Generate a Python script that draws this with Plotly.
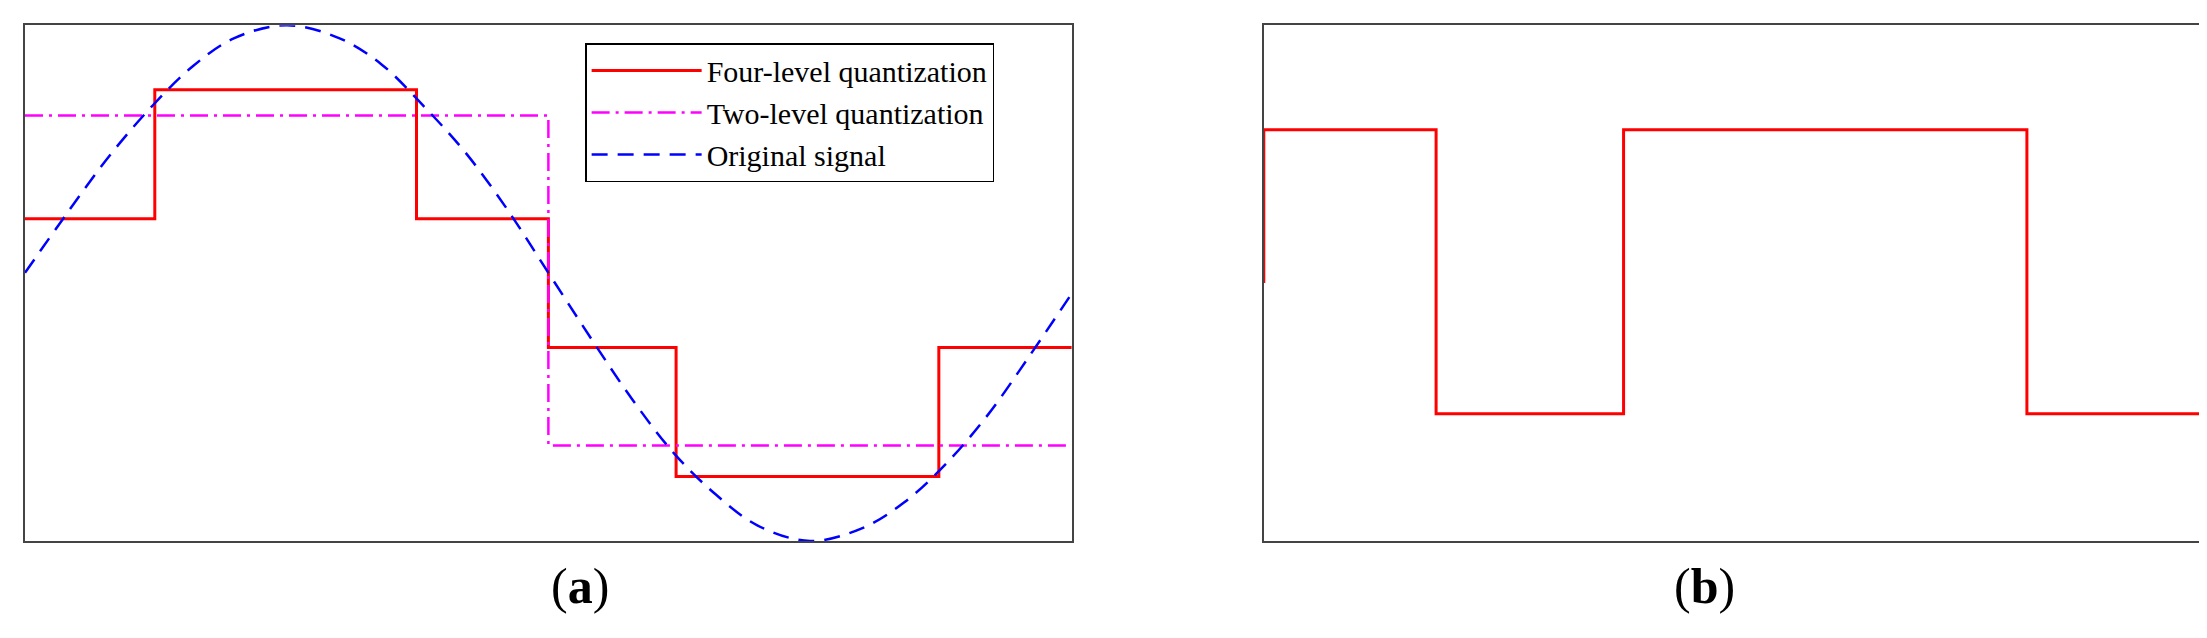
import plotly.graph_objects as go

# panel (a): one period of the original signal
sig_x = [0, 0.04, 0.08, 0.12, 0.16, 0.2, 0.25, 0.3, 0.34, 0.38, 0.42, 0.46, 0.5,
         0.54, 0.58, 0.62, 0.66, 0.7, 0.75, 0.8, 0.84, 0.88, 0.92, 0.96, 1.0]
sig_y = [0.04, 0.27, 0.49, 0.68, 0.84, 0.95, 1.0, 0.95, 0.85, 0.69, 0.51, 0.29, 0.04,
         -0.21, -0.45, -0.66, -0.82, -0.94, -1.0, -0.95, -0.85, -0.70, -0.51, -0.28, -0.04]

four_x = [0, 0.124, 0.124, 0.374, 0.374, 0.5, 0.5, 0.622, 0.622, 0.873, 0.873, 1.0]
four_y = [0.25, 0.25, 0.75, 0.75, 0.25, 0.25, -0.25, -0.25, -0.75, -0.75, -0.25, -0.25]

two_x = [0, 0.5, 0.5, 1.0]
two_y = [0.65, 0.65, -0.63, -0.63]

# panel (b): square wave
sq_x = [0, 0, 0.182, 0.182, 0.38, 0.38, 0.806, 0.806, 0.998, 0.998]
sq_y = [0, 0.595, 0.595, -0.507, -0.507, 0.595, 0.595, -0.507, -0.507, 0]

FONT = "Liberation Serif"

fig = go.Figure()
fig.add_trace(go.Scatter(x=four_x, y=four_y, mode="lines", name="Four-level quantization",
                         line=dict(color="red", width=3)))
fig.add_trace(go.Scatter(x=two_x, y=two_y, mode="lines", name="Two-level quantization",
                         line=dict(color="magenta", width=2.5, dash="18px,6px,3px,6px")))
fig.add_trace(go.Scatter(x=sig_x, y=sig_y, mode="lines", name="Original signal", line_shape="spline",
                         line=dict(color="blue", width=2.5, dash="16px,10px")))
fig.add_trace(go.Scatter(x=sq_x, y=sq_y, mode="lines", showlegend=False, cliponaxis=False,
                         line=dict(color="red", width=3), xaxis="x2", yaxis="y2"))

ax = dict(showticklabels=False, ticks="", showgrid=False, zeroline=False,
          showline=True, mirror=True, linecolor="#444", linewidth=1.5)
fig.update_layout(
    width=2207, height=638, margin=dict(l=0, r=0, t=0, b=0),
    plot_bgcolor="white", paper_bgcolor="white",
    xaxis=dict(ax, domain=[0.0077, 0.482], range=[0, 1]),
    yaxis=dict(ax, domain=[0.1646, 0.973], range=[-1, 1]),
    xaxis2=dict(ax, domain=[0.569, 0.998], range=[0, 1], anchor="y2"),
    yaxis2=dict(ax, domain=[0.1646, 0.973], range=[-1, 1], anchor="x2"),
    legend=dict(x=0.2615, y=0.945, xanchor="left", yanchor="top",
                bgcolor="white", bordercolor="black", borderwidth=1.5,
                font=dict(family=FONT, size=30, color="black"), itemwidth=110),
    annotations=[
        dict(text="(<b>a</b>)", x=0.245, y=0.047, xref="paper", yref="paper",
             showarrow=False, font=dict(family=FONT, size=50, color="black")),
        dict(text="(<b>b</b>)", x=0.7835, y=0.047, xref="paper", yref="paper",
             showarrow=False, font=dict(family=FONT, size=50, color="black")),
    ],
)
fig.write_html("out.html")
